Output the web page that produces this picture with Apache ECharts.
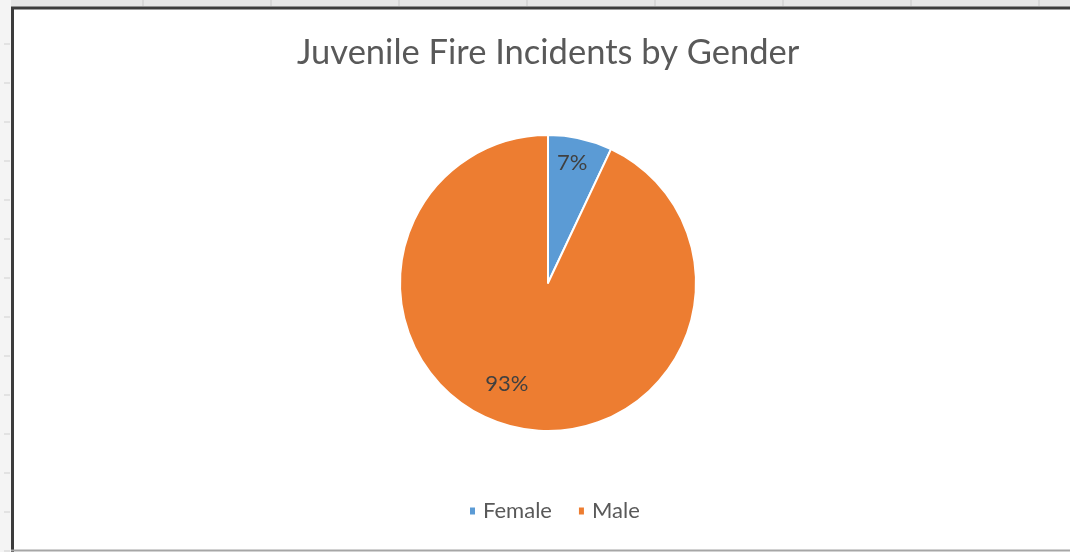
<!DOCTYPE html>
<html>
<head>
<meta charset="utf-8">
<script src="https://cdn.jsdelivr.net/npm/echarts@6/dist/echarts.min.js"></script>
<style>
  html, body { margin: 0; padding: 0; background: #ffffff; }
  #chart { width: 1070px; height: 552px; }
</style>
</head>
<body>
<div id="chart"></div>
<script>
// Juvenile fire incidents split by gender (percent of total)
const categories = ['Female', 'Male'];
const shares = [7, 93];
const sliceColors = ['#5B9BD5', '#ED7D31'];
const titleText = 'Juvenile Fire Incidents by Gender';

const FONT = 'Lato, "Open Sans", sans-serif';
const CX = 548, CY = 283, R = 148;

const chart = echarts.init(document.getElementById('chart'), null, { renderer: 'canvas' });

const pieData = categories.map((name, i) => ({
  name,
  value: shares[i],
  itemStyle: { color: sliceColors[i] }
}));

// label-only ring: percentages sit in the outer part of each slice
const labelData = categories.map((name, i) => ({
  name,
  value: shares[i],
  label: name === 'Male' ? { offset: [-14, -21] } : { offset: [-3, 2] }
}));

// spreadsheet grid peeking out around the chart frame
const gridLines = [];
for (let x = 143; x < 1070; x += 128) {
  gridLines.push({ type: 'line', silent: true, shape: { x1: x, y1: 0, x2: x, y2: 6 }, style: { stroke: '#c8c8c8', lineWidth: 1 } });
}
for (let y = 44; y < 552; y += 39) {
  gridLines.push({ type: 'line', silent: true, shape: { x1: 4, y1: y, x2: 10, y2: y }, style: { stroke: '#d0d0d0', lineWidth: 1 } });
}

chart.setOption({
  backgroundColor: '#ffffff',
  animation: false,
  title: {
    text: titleText,
    left: 292,
    top: 30,
    textStyle: { fontFamily: FONT, fontSize: 34.5, fontWeight: 'normal', color: '#595959' }
  },
  legend: {
    data: categories,
    left: 463,
    top: 495,
    icon: 'rect',
    itemWidth: 7,
    itemHeight: 9,
    itemGap: 25,
    textStyle: { fontFamily: FONT, fontSize: 22, color: '#595959', padding: [0, 0, 0, 2] }
  },
  graphic: [
    { type: 'rect', silent: true, z: -10, shape: { x: 0, y: 0, width: 1070, height: 7 }, style: { fill: '#e6e6e6' } },
    { type: 'rect', silent: true, z: -10, shape: { x: 0, y: 0, width: 11, height: 552 }, style: { fill: '#f4f4f4' } },
    ...gridLines,
    { type: 'line', silent: true, shape: { x1: 11, y1: 8, x2: 1070, y2: 8 }, style: { stroke: '#3c3c3c', lineWidth: 3 } },
    { type: 'line', silent: true, shape: { x1: 12.5, y1: 7, x2: 12.5, y2: 552 }, style: { stroke: '#3c3c3c', lineWidth: 3 } },
    { type: 'line', silent: true, shape: { x1: 11, y1: 550.5, x2: 1070, y2: 550.5 }, style: { stroke: '#a6a6a6', lineWidth: 2 } }
  ],
  series: [
    {
      name: 'Gender',
      type: 'pie',
      center: [CX, CY],
      radius: [0, R],
      startAngle: 90,
      clockwise: true,
      data: pieData,
      label: { show: false },
      labelLine: { show: false },
      itemStyle: { borderColor: '#ffffff', borderWidth: 2 },
      emphasis: { disabled: true }
    },
    {
      name: 'Labels',
      type: 'pie',
      center: [CX, CY],
      radius: [R - 52, R],
      startAngle: 90,
      clockwise: true,
      silent: true,
      data: labelData,
      itemStyle: { color: 'rgba(0,0,0,0)' },
      label: {
        show: true,
        position: 'inside',
        formatter: '{c}%',
        fontFamily: FONT,
        fontSize: 22,
        color: '#404040'
      },
      labelLine: { show: false },
      emphasis: { disabled: true }
    }
  ]
});
</script>
</body>
</html>
